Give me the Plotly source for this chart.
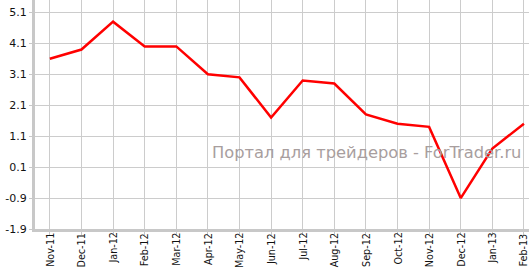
import plotly.graph_objects as go

months = ["Nov-11", "Dec-11", "Jan-12", "Feb-12", "Mar-12", "Apr-12", "May-12", "Jun-12",
          "Jul-12", "Aug-12", "Sep-12", "Oct-12", "Nov-12", "Dec-12", "Jan-13", "Feb-13"]
values = [3.6, 3.9, 4.8, 4.0, 4.0, 3.1, 3.0, 1.7, 2.9, 2.8, 1.8, 1.5, 1.4, -0.9, 0.7, 1.5]
y_ticks = [-1.9, -0.9, 0.1, 1.1, 2.1, 3.1, 4.1, 5.1]
watermark = "Портал для трейдеров - ForTrader.ru"

fig = go.Figure()
fig.add_trace(go.Scatter(x=list(range(len(months))), y=values, mode="lines",
                         line=dict(color="#ff0000", width=2.5), hoverinfo="skip"))

annotations = [dict(
    text=watermark, x=(523 - 35) / (529 - 35), xref="paper", y=0.335, yref="paper",
    xanchor="right", yanchor="middle", showarrow=False,
    font=dict(size=16.3, family="DejaVu Sans", color="#a89e9e"),
)]
for i, m in enumerate(months):
    annotations.append(dict(
        text=m, x=i, xref="x", y=0, yref="paper", textangle=-90,
        xanchor="center", yanchor="top", yshift=-2, showarrow=False,
        font=dict(size=9.6, family="DejaVu Sans", color="#111"),
    ))

fig.update_layout(
    width=529, height=269,
    margin=dict(l=35, r=0, t=0, b=40),
    paper_bgcolor="white", plot_bgcolor="white",
    showlegend=False,
    font=dict(family="DejaVu Sans, Verdana", color="#111111"),
    xaxis=dict(
        range=[-0.47, 15.16], automargin=False,
        tickmode="array", tickvals=list(range(len(months))), showticklabels=False,
        showgrid=True, gridcolor="#cccccc", gridwidth=1,
        showline=True, linecolor="#c8c8c8", linewidth=3,
        ticks="outside", ticklen=3, tickcolor="#c8c8c8",
        zeroline=False, fixedrange=True,
    ),
    yaxis=dict(
        range=[-1.9, 5.5], automargin=False,
        tickmode="array", tickvals=y_ticks, ticktext=[f"{v:.1f}" for v in y_ticks],
        tickfont=dict(size=11, family="DejaVu Sans", color="#111"),
        showgrid=True, gridcolor="#cccccc", gridwidth=1,
        showline=True, linecolor="#c8c8c8", linewidth=3,
        ticks="outside", ticklen=3, tickcolor="#c8c8c8",
        zeroline=False, fixedrange=True,
    ),
    annotations=annotations,
)

fig.write_html("out.html", config={"displayModeBar": False})
